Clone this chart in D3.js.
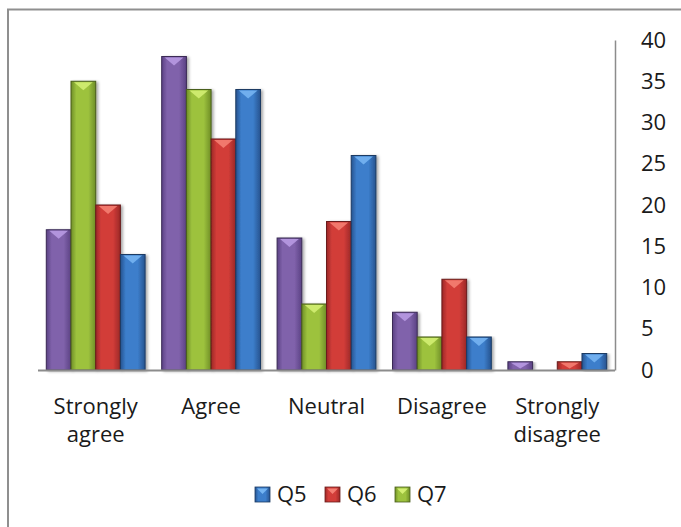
<!DOCTYPE html>
<html>
<head>
<meta charset="utf-8">
<script src="https://cdn.jsdelivr.net/npm/d3@7"></script>
<style>
  html, body { margin: 0; padding: 0; background: #fff; }
  svg { display: block; }
  text { font-family: "Open Sans", "Noto Sans", sans-serif; fill: #1a1a1a; }
</style>
</head>
<body>
<svg id="chart" width="681" height="527"></svg>
<script>
// Response categories along the bottom
const categories = ["Strongly agree", "Agree", "Neutral", "Disagree", "Strongly disagree"];

// Series in drawing order within each group (left to right)
const seriesKeys  = ["Other", "Q7", "Q6", "Q5"];
const otherValues = [17, 38, 16, 7, 1];
const q7Values    = [35, 34, 8, 4, 0];
const q6Values    = [20, 28, 18, 11, 1];
const q5Values    = [14, 34, 26, 4, 2];

// Legend entries (left to right)
const legendKeys = ["Q5", "Q6", "Q7"];

// Value axis ticks
const yTicks = [0, 5, 10, 15, 20, 25, 30, 35, 40];

const valuesByKey = { Other: otherValues, Q7: q7Values, Q6: q6Values, Q5: q5Values };

// Bevelled-bar palette: edge, middle, highlight, outline
const palette = {
  Other: { edge: "#5b4284", mid: "#8062ab", hi: "#b79ae2", line: "#3a2a55" },
  Q7:    { edge: "#6f8e27", mid: "#9dc23e", hi: "#d3ee72", line: "#4a5e1c" },
  Q6:    { edge: "#9b2827", mid: "#d23d39", hi: "#f47e72", line: "#6a1c1b" },
  Q5:    { edge: "#27538f", mid: "#3c7ecb", hi: "#74b4f2", line: "#1b3a63" }
};

const svg = d3.select("#chart");
const defs = svg.append("defs");

// Horizontal gradients give each bar a rounded, lit look
seriesKeys.forEach(k => {
  const c = palette[k];
  const g = defs.append("linearGradient")
    .attr("id", "grad-" + k).attr("x1", "0").attr("x2", "1").attr("y1", "0").attr("y2", "0");
  g.append("stop").attr("offset", "0%").attr("stop-color", c.edge);
  g.append("stop").attr("offset", "22%").attr("stop-color", c.mid);
  g.append("stop").attr("offset", "70%").attr("stop-color", c.mid);
  g.append("stop").attr("offset", "100%").attr("stop-color", c.edge);
});

const shadow = defs.append("filter").attr("id", "shadow")
  .attr("x", "-20%").attr("y", "-5%").attr("width", "150%").attr("height", "115%");
shadow.append("feGaussianBlur").attr("in", "SourceAlpha").attr("stdDeviation", 1.5);
shadow.append("feOffset").attr("dx", 2).attr("dy", 1).attr("result", "off");
shadow.append("feComponentTransfer").append("feFuncA").attr("type", "linear").attr("slope", 0.35);
const merge = shadow.append("feMerge");
merge.append("feMergeNode");
merge.append("feMergeNode").attr("in", "SourceGraphic");

// Outer frame (left and top edges)
svg.append("path")
  .attr("d", "M8,527 L8,9.5 L681,9.5")
  .attr("fill", "none").attr("stroke", "#8f8f8f").attr("stroke-width", 2);

// Scales
const plotLeft = 38, plotRight = 615, plotTop = 40, plotBottom = 370;
const x0 = d3.scaleBand().domain(categories).range([plotLeft, plotRight]).padding(0);
const groupPad = 8.3;
const x1 = d3.scaleBand().domain(seriesKeys)
  .range([groupPad, x0.bandwidth() - groupPad]).padding(0);
const y = d3.scaleLinear().domain([0, 40]).range([plotBottom, plotTop]);

// Bars
const bars = svg.append("g");
categories.forEach((cat, i) => {
  seriesKeys.forEach(k => {
    const v = valuesByKey[k][i];
    if (v <= 0) return;
    const c = palette[k];
    const bx = x0(cat) + x1(k);
    const bw = x1.bandwidth();
    const by = y(v);
    const bh = y(0) - y(v);
    const g = bars.append("g").attr("filter", "url(#shadow)");
    g.append("rect")
      .attr("x", bx).attr("y", by).attr("width", bw).attr("height", bh)
      .attr("fill", "url(#grad-" + k + ")")
      .attr("stroke", c.line).attr("stroke-width", 1);
    // bevelled top highlight
    const d = Math.min(9, bh - 1.5);
    g.append("path")
      .attr("d", `M${bx + 3},${by + 1} L${bx + bw - 3},${by + 1} L${bx + bw / 2},${by + d} Z`)
      .attr("fill", c.hi).attr("opacity", 0.9);
  });
});

// Baseline
svg.append("line")
  .attr("x1", plotLeft).attr("x2", plotRight)
  .attr("y1", y(0) + 0.5).attr("y2", y(0) + 0.5)
  .attr("stroke", "#8c8c8c").attr("stroke-width", 2);

// Value axis on the right
const yAxis = d3.axisRight(y).tickValues(yTicks).tickSize(0).tickPadding(26);
const yg = svg.append("g").attr("transform", `translate(${plotRight},0)`).call(yAxis);
yg.select(".domain").attr("stroke", "#8c8c8c").attr("stroke-width", 1.5);
yg.selectAll("text")
  .style("font-family", '"Open Sans", sans-serif')
  .attr("font-size", 22).attr("fill", "#1a1a1a");

// Category labels (wrapped onto two lines where needed)
const catLabels = svg.append("g");
categories.forEach(cat => {
  const words = cat.split(" ");
  const t = catLabels.append("text")
    .attr("x", x0(cat) + x0.bandwidth() / 2)
    .attr("y", 414)
    .attr("text-anchor", "middle")
    .attr("font-size", 22);
  words.forEach((w, j) => {
    t.append("tspan").attr("x", x0(cat) + x0.bandwidth() / 2)
      .attr("dy", j === 0 ? 0 : 28).text(w);
  });
});

// Legend
const legend = svg.append("g").attr("transform", "translate(255,487)");
legendKeys.forEach((k, i) => {
  const c = palette[k];
  const g = legend.append("g").attr("transform", `translate(${i * 70},0)`);
  g.append("rect").attr("x", 0).attr("y", 0).attr("width", 15).attr("height", 15)
    .attr("fill", "url(#grad-" + k + ")").attr("stroke", c.line).attr("stroke-width", 0.8);
  g.append("path").attr("d", "M2,1.5 L13,1.5 L7.5,7 Z").attr("fill", c.hi);
  g.append("text").attr("x", 22).attr("y", 14.5).attr("font-size", 22).text(k);
});
</script>
</body>
</html>
